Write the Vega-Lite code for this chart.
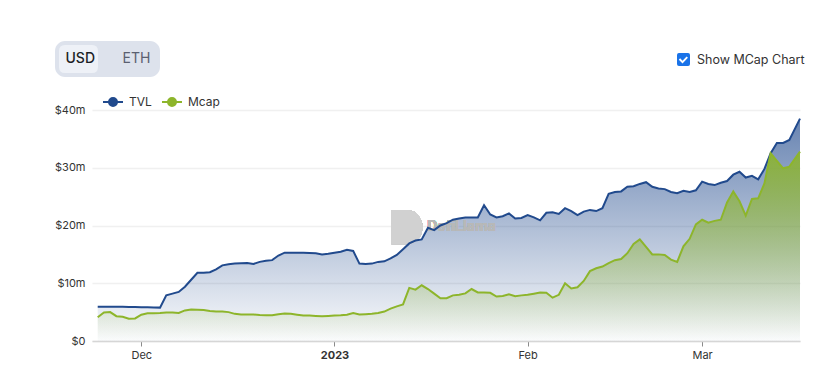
{
  "$schema": "https://vega.github.io/schema/vega-lite/v6.json",
  "width": 708,
  "height": 231,
  "autosize": "none",
  "padding": {"left": 92, "top": 110, "right": 38, "bottom": 41},
  "background": "#ffffff",
  "config": {"view": {"stroke": null}, "font": "Inter"},
  "data": {
    "values": [
      {"date": "2022-11-24", "TVL": 5.95, "Mcap": 4.1},
      {"date": "2022-11-25", "TVL": 5.95, "Mcap": 4.95},
      {"date": "2022-11-26", "TVL": 5.95, "Mcap": 5.0},
      {"date": "2022-11-27", "TVL": 5.93, "Mcap": 4.3},
      {"date": "2022-11-28", "TVL": 5.92, "Mcap": 4.2},
      {"date": "2022-11-29", "TVL": 5.9, "Mcap": 3.85},
      {"date": "2022-11-30", "TVL": 5.88, "Mcap": 3.9},
      {"date": "2022-12-01", "TVL": 5.85, "Mcap": 4.55},
      {"date": "2022-12-02", "TVL": 5.83, "Mcap": 4.8},
      {"date": "2022-12-03", "TVL": 5.8, "Mcap": 4.8},
      {"date": "2022-12-04", "TVL": 5.78, "Mcap": 4.85},
      {"date": "2022-12-05", "TVL": 7.9, "Mcap": 4.95},
      {"date": "2022-12-06", "TVL": 8.2, "Mcap": 4.95},
      {"date": "2022-12-07", "TVL": 8.5, "Mcap": 4.85},
      {"date": "2022-12-08", "TVL": 9.4, "Mcap": 5.3},
      {"date": "2022-12-09", "TVL": 10.6, "Mcap": 5.45},
      {"date": "2022-12-10", "TVL": 11.8, "Mcap": 5.4},
      {"date": "2022-12-11", "TVL": 11.8, "Mcap": 5.35},
      {"date": "2022-12-12", "TVL": 11.9, "Mcap": 5.2},
      {"date": "2022-12-13", "TVL": 12.4, "Mcap": 5.1},
      {"date": "2022-12-14", "TVL": 13.1, "Mcap": 5.1},
      {"date": "2022-12-15", "TVL": 13.3, "Mcap": 5.0},
      {"date": "2022-12-16", "TVL": 13.4, "Mcap": 4.7},
      {"date": "2022-12-17", "TVL": 13.45, "Mcap": 4.6},
      {"date": "2022-12-18", "TVL": 13.5, "Mcap": 4.6},
      {"date": "2022-12-19", "TVL": 13.35, "Mcap": 4.6},
      {"date": "2022-12-20", "TVL": 13.7, "Mcap": 4.5},
      {"date": "2022-12-21", "TVL": 13.9, "Mcap": 4.45},
      {"date": "2022-12-22", "TVL": 14.0, "Mcap": 4.45},
      {"date": "2022-12-23", "TVL": 14.8, "Mcap": 4.65},
      {"date": "2022-12-24", "TVL": 15.3, "Mcap": 4.75},
      {"date": "2022-12-25", "TVL": 15.3, "Mcap": 4.7},
      {"date": "2022-12-26", "TVL": 15.3, "Mcap": 4.55},
      {"date": "2022-12-27", "TVL": 15.3, "Mcap": 4.4},
      {"date": "2022-12-28", "TVL": 15.25, "Mcap": 4.4},
      {"date": "2022-12-29", "TVL": 15.2, "Mcap": 4.35},
      {"date": "2022-12-30", "TVL": 15.0, "Mcap": 4.3},
      {"date": "2022-12-31", "TVL": 15.1, "Mcap": 4.35},
      {"date": "2023-01-01", "TVL": 15.3, "Mcap": 4.4},
      {"date": "2023-01-02", "TVL": 15.45, "Mcap": 4.45},
      {"date": "2023-01-03", "TVL": 15.8, "Mcap": 4.55},
      {"date": "2023-01-04", "TVL": 15.6, "Mcap": 4.85},
      {"date": "2023-01-05", "TVL": 13.4, "Mcap": 4.6},
      {"date": "2023-01-06", "TVL": 13.35, "Mcap": 4.65},
      {"date": "2023-01-07", "TVL": 13.4, "Mcap": 4.7},
      {"date": "2023-01-08", "TVL": 13.7, "Mcap": 4.85},
      {"date": "2023-01-09", "TVL": 13.8, "Mcap": 5.1},
      {"date": "2023-01-10", "TVL": 14.3, "Mcap": 5.6},
      {"date": "2023-01-11", "TVL": 14.9, "Mcap": 6.0},
      {"date": "2023-01-12", "TVL": 15.9, "Mcap": 6.35},
      {"date": "2023-01-13", "TVL": 16.9, "Mcap": 9.2},
      {"date": "2023-01-14", "TVL": 17.4, "Mcap": 8.9},
      {"date": "2023-01-15", "TVL": 17.6, "Mcap": 9.65},
      {"date": "2023-01-16", "TVL": 19.6, "Mcap": 9.0},
      {"date": "2023-01-17", "TVL": 19.2, "Mcap": 8.2},
      {"date": "2023-01-18", "TVL": 20.0, "Mcap": 7.4},
      {"date": "2023-01-19", "TVL": 20.4, "Mcap": 7.4},
      {"date": "2023-01-20", "TVL": 21.0, "Mcap": 7.9},
      {"date": "2023-01-21", "TVL": 21.2, "Mcap": 8.0},
      {"date": "2023-01-22", "TVL": 21.4, "Mcap": 8.25},
      {"date": "2023-01-23", "TVL": 21.4, "Mcap": 9.0},
      {"date": "2023-01-24", "TVL": 21.4, "Mcap": 8.4},
      {"date": "2023-01-25", "TVL": 23.5, "Mcap": 8.4},
      {"date": "2023-01-26", "TVL": 21.9, "Mcap": 8.35},
      {"date": "2023-01-27", "TVL": 21.4, "Mcap": 7.7},
      {"date": "2023-01-28", "TVL": 21.6, "Mcap": 7.8},
      {"date": "2023-01-29", "TVL": 22.1, "Mcap": 8.1},
      {"date": "2023-01-30", "TVL": 21.2, "Mcap": 7.75},
      {"date": "2023-01-31", "TVL": 21.3, "Mcap": 7.9},
      {"date": "2023-02-01", "TVL": 21.8, "Mcap": 8.0},
      {"date": "2023-02-02", "TVL": 21.4, "Mcap": 8.2},
      {"date": "2023-02-03", "TVL": 20.9, "Mcap": 8.4},
      {"date": "2023-02-04", "TVL": 22.2, "Mcap": 8.35},
      {"date": "2023-02-05", "TVL": 22.3, "Mcap": 7.5},
      {"date": "2023-02-06", "TVL": 22.0, "Mcap": 8.0},
      {"date": "2023-02-07", "TVL": 23.0, "Mcap": 10.0},
      {"date": "2023-02-08", "TVL": 22.5, "Mcap": 9.1},
      {"date": "2023-02-09", "TVL": 21.8, "Mcap": 9.3},
      {"date": "2023-02-10", "TVL": 22.4, "Mcap": 10.4},
      {"date": "2023-02-11", "TVL": 22.7, "Mcap": 12.1},
      {"date": "2023-02-12", "TVL": 22.5, "Mcap": 12.6},
      {"date": "2023-02-13", "TVL": 23.0, "Mcap": 12.9},
      {"date": "2023-02-14", "TVL": 25.5, "Mcap": 13.5},
      {"date": "2023-02-15", "TVL": 25.8, "Mcap": 14.0},
      {"date": "2023-02-16", "TVL": 25.9, "Mcap": 14.2},
      {"date": "2023-02-17", "TVL": 26.7, "Mcap": 15.2},
      {"date": "2023-02-18", "TVL": 26.8, "Mcap": 16.8},
      {"date": "2023-02-19", "TVL": 27.2, "Mcap": 17.6},
      {"date": "2023-02-20", "TVL": 27.5, "Mcap": 16.3},
      {"date": "2023-02-21", "TVL": 26.7, "Mcap": 15.0},
      {"date": "2023-02-22", "TVL": 26.4, "Mcap": 15.0},
      {"date": "2023-02-23", "TVL": 26.3, "Mcap": 14.9},
      {"date": "2023-02-24", "TVL": 25.8, "Mcap": 14.1},
      {"date": "2023-02-25", "TVL": 25.6, "Mcap": 13.7},
      {"date": "2023-02-26", "TVL": 26.0, "Mcap": 16.4},
      {"date": "2023-02-27", "TVL": 25.8, "Mcap": 17.7},
      {"date": "2023-02-28", "TVL": 26.1, "Mcap": 20.2},
      {"date": "2023-03-01", "TVL": 27.6, "Mcap": 21.0},
      {"date": "2023-03-02", "TVL": 27.2, "Mcap": 20.5},
      {"date": "2023-03-03", "TVL": 27.0, "Mcap": 20.8},
      {"date": "2023-03-04", "TVL": 27.4, "Mcap": 21.0},
      {"date": "2023-03-05", "TVL": 27.7, "Mcap": 24.0},
      {"date": "2023-03-06", "TVL": 28.8, "Mcap": 25.9},
      {"date": "2023-03-07", "TVL": 29.3, "Mcap": 24.2},
      {"date": "2023-03-08", "TVL": 28.3, "Mcap": 21.7},
      {"date": "2023-03-09", "TVL": 28.6, "Mcap": 24.6},
      {"date": "2023-03-10", "TVL": 28.0, "Mcap": 24.7},
      {"date": "2023-03-11", "TVL": 29.8, "Mcap": 27.3},
      {"date": "2023-03-12", "TVL": 32.5, "Mcap": 32.5},
      {"date": "2023-03-13", "TVL": 34.3, "Mcap": 31.2},
      {"date": "2023-03-14", "TVL": 34.3, "Mcap": 29.9},
      {"date": "2023-03-15", "TVL": 34.8, "Mcap": 30.2},
      {"date": "2023-03-16T17:00:00Z", "TVL": 38.5, "Mcap": 32.8}
    ]
  },
  "encoding": {
    "x": {
      "field": "date",
      "type": "temporal",
      "scale": {
        "type": "utc",
        "domain": [
          {"year": 2022, "month": 11, "date": 23, "hours": 2, "utc": true},
          {"year": 2023, "month": 3, "date": 16, "hours": 17, "utc": true}
        ]
      },
      "axis": {
        "title": null,
        "values": [
          {"year": 2022, "month": 12, "date": 1, "utc": true},
          {"year": 2023, "month": 1, "date": 1, "utc": true},
          {"year": 2023, "month": 2, "date": 1, "utc": true},
          {"year": 2023, "month": 3, "date": 1, "utc": true}
        ],
        "labelExpr": "utcmonth(datum.value) == 0 ? utcFormat(datum.value, '%Y') : utcFormat(datum.value, '%b')",
        "labelFontWeight": {"expr": "utcmonth(datum.value) == 0 ? 'bold' : 'normal'"},
        "labelFont": "Inter",
        "labelFontSize": 11,
        "labelColor": "#333333",
        "labelPadding": 3,
        "grid": false,
        "domainColor": "#d6d6d6",
        "domainWidth": 1.5,
        "tickColor": "#8a8a8a",
        "tickSize": 5,
        "labelFlush": false
      }
    }
  },
  "layer": [
    {
      "mark": {
        "type": "area",
        "interpolate": "linear",
        "color": {
          "gradient": "linear", "x1": 0, "y1": 0, "x2": 0, "y2": 1,
          "stops": [
            {"offset": 0, "color": "rgba(33,74,141,0.68)"},
            {"offset": 1, "color": "rgba(33,74,141,0.02)"}
          ]
        }
      },
      "encoding": {
        "y": {
          "field": "TVL",
          "type": "quantitative",
          "scale": {"domain": [0, 40], "nice": false},
          "axis": {
            "title": null,
            "values": [0, 10, 20, 30, 40],
            "labelExpr": "datum.value == 0 ? '$0' : '$' + datum.value + 'm'",
            "labelFont": "Inter",
            "labelFontSize": 11,
            "labelColor": "#333333",
            "labelPadding": 7,
            "ticks": false,
            "domain": false,
            "grid": true,
            "gridColor": "#f0f0f0",
            "gridWidth": 1.5
          }
        }
      }
    },
    {
      "mark": {
        "type": "area",
        "interpolate": "linear",
        "color": {
          "gradient": "linear", "x1": 0, "y1": 0, "x2": 0, "y2": 1,
          "stops": [
            {"offset": 0, "color": "rgba(141,181,43,0.88)"},
            {"offset": 1, "color": "rgba(141,181,43,0.0)"}
          ]
        }
      },
      "encoding": {"y": {"field": "Mcap", "type": "quantitative"}}
    },
    {
      "mark": {"type": "point", "filled": true, "color": "#d0d0d0", "opacity": 0.6, "size": 1200, "shape": "M-0.8,-1L0.1,-1A0.9,1,0,0,1,0.1,1L-0.8,1Z"},
      "encoding": {
        "x": {"datum": {"year": 2023, "month": 1, "date": 12, "hours": 8, "utc": true}, "type": "temporal"},
        "y": {"datum": 19.7, "type": "quantitative"}
      }
    },
    {
      "mark": {"type": "text", "text": "DefiLlama", "font": "Inter", "fontSize": 14, "fontWeight": "bold", "color": "#b8b8b8", "opacity": 1, "align": "left", "baseline": "middle"},
      "encoding": {
        "x": {"datum": {"year": 2023, "month": 1, "date": 15, "hours": 21, "utc": true}, "type": "temporal"},
        "y": {"datum": 19.7, "type": "quantitative"}
      }
    },
    {
      "transform": [{"fold": ["TVL", "Mcap"], "as": ["series", "value"]}],
      "mark": {"type": "line", "strokeWidth": 2, "interpolate": "linear"},
      "encoding": {
        "y": {"field": "value", "type": "quantitative"},
        "color": {
          "field": "series",
          "type": "nominal",
          "scale": {"domain": ["TVL", "Mcap"], "range": ["#214a8d", "#8db52b"]},
          "legend": {
            "title": null,
            "orient": "none",
            "legendX": 10,
            "legendY": -19,
            "direction": "horizontal",
            "symbolType": "M-1,0L1,0M0.4,0A0.4,0.4,0,1,1,-0.4,0A0.4,0.4,0,1,1,0.4,0Z",
            "symbolSize": 400,
            "symbolStrokeWidth": 2,
            "symbolFillColor": {"expr": "scale('color', datum.value)"},
            "labelFont": "Inter",
            "labelFontSize": 12,
            "labelColor": "#333333",
            "labelOffset": 5,
            "columnPadding": 6,
            "padding": 0
          }
        }
      }
    },
    {
      "mark": {"type": "point", "filled": true, "color": "#1a73e8", "opacity": 0},
      "encoding": {
        "shape": {
          "datum": "Show MCap Chart",
          "scale": {"domain": ["Show MCap Chart"], "range": ["M-0.7,-1L0.7,-1Q1,-1,1,-0.7L1,0.7Q1,1,0.7,1L-0.7,1Q-1,1,-1,0.7L-1,-0.7Q-1,-1,-0.7,-1ZM-0.72,0.02L-0.15,0.6L0.68,-0.26L0.48,-0.46L-0.15,0.2L-0.52,-0.18Z"]},
          "legend": {
            "title": null,
            "orient": "none",
            "legendX": 585,
            "legendY": -57,
            "symbolSize": 169,
            "symbolOpacity": 1,
            "symbolFillColor": "#1a73e8",
            "symbolStrokeWidth": 0,
            "labelFont": "Inter",
            "labelFontSize": 12.5,
            "labelColor": "#333333",
            "labelOffset": 7,
            "padding": 0
          }
        }
      }
    },
    {
      "mark": {"type": "point", "filled": true, "opacity": 0},
      "encoding": {
        "fill": {
          "datum": "USD",
          "scale": {"domain": ["USD", "ETH"], "range": ["#eef1f7", "rgba(0,0,0,0)"]},
          "legend": {
            "title": null,
            "orient": "none",
            "legendX": -37,
            "legendY": -69,
            "direction": "horizontal",
            "fillColor": "#dde2ec",
            "cornerRadius": 10,
            "padding": 4,
            "symbolType": "M-0.57,-1L1.357,-1Q1.786,-1,1.786,-0.57L1.786,0.57Q1.786,1,1.357,1L-0.57,1Q-1,1,-1,0.57L-1,-0.57Q-1,-1,-0.57,-1Z",
            "symbolSize": 784,
            "symbolOpacity": 1,
            "symbolStrokeWidth": 0,
            "labelFont": "Inter",
            "labelFontSize": 14,
            "labelColor": {"expr": "datum.value == 'USD' ? '#1c1f26' : '#5a6070'"},
            "labelFontWeight": {"expr": "datum.value == 'USD' ? 500 : 400"},
            "labelOffset": -21.5,
            "columnPadding": 17
          }
        }
      }
    }
  ]
}
